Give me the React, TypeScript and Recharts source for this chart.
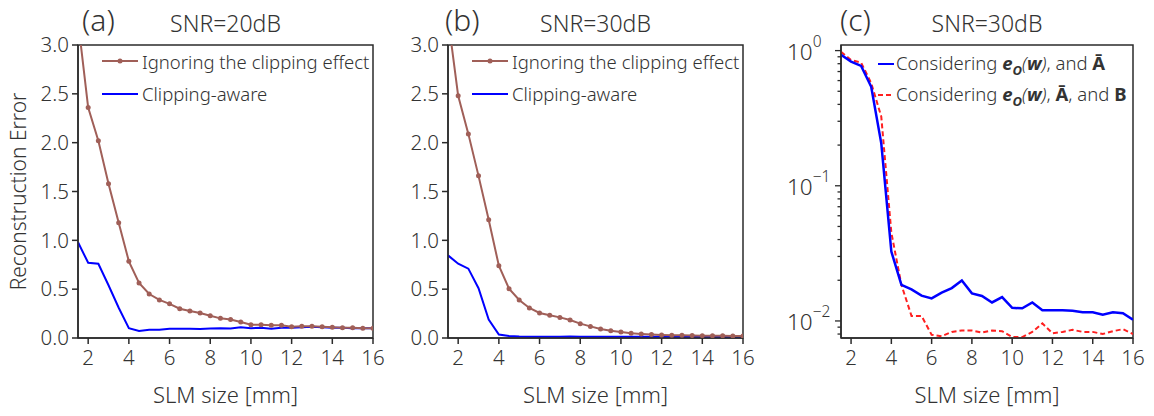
import { LineChart, Line, XAxis, YAxis, Legend, ReferenceArea } from "recharts";

// SLM aperture sizes [mm]
const slmSize = [
  1.5, 2, 2.5, 3, 3.5, 4, 4.5, 5, 5.5, 6, 6.5, 7, 7.5, 8, 8.5, 9, 9.5, 10,
  10.5, 11, 11.5, 12, 12.5, 13, 13.5, 14, 14.5, 15, 15.5, 16,
];

// (a) SNR = 20dB
const ignoring20 = [
  3.25, 2.36, 2.02, 1.58, 1.18, 0.785, 0.563, 0.45, 0.39, 0.35, 0.3, 0.276,
  0.256, 0.228, 0.201, 0.19, 0.164, 0.136, 0.135, 0.13, 0.13, 0.115, 0.12,
  0.12, 0.115, 0.11, 0.105, 0.105, 0.1, 0.1,
];
const aware20 = [
  0.98, 0.77, 0.76, 0.54, 0.31, 0.1, 0.072, 0.085, 0.085, 0.095, 0.095, 0.095,
  0.093, 0.098, 0.1, 0.097, 0.11, 0.1, 0.105, 0.095, 0.105, 0.105, 0.11,
  0.115, 0.11, 0.105, 0.105, 0.1, 0.1, 0.1,
];

// (b) SNR = 30dB
const ignoring30 = [
  3.28, 2.48, 2.09, 1.66, 1.21, 0.74, 0.505, 0.39, 0.307, 0.256, 0.232, 0.211,
  0.184, 0.147, 0.119, 0.092, 0.075, 0.061, 0.048, 0.041, 0.035, 0.031, 0.029,
  0.027, 0.025, 0.024, 0.023, 0.022, 0.021, 0.02,
];
const aware30 = [
  0.846, 0.76, 0.71, 0.51, 0.19, 0.035, 0.02, 0.015, 0.013, 0.013, 0.013,
  0.013, 0.015, 0.013, 0.012, 0.012, 0.012, 0.012, 0.012, 0.012, 0.012, 0.012,
  0.012, 0.012, 0.012, 0.012, 0.012, 0.012, 0.012, 0.012,
];

// (c) SNR = 30dB, log scale
const withoutB = [
  0.93, 0.83, 0.77, 0.54, 0.206, 0.0326, 0.0185, 0.0171, 0.0154, 0.0147,
  0.0162, 0.0175, 0.0199, 0.016, 0.0153, 0.0137, 0.015, 0.0125, 0.0124,
  0.0137, 0.012, 0.012, 0.012, 0.0119, 0.0116, 0.0116, 0.0111, 0.0116, 0.0114,
  0.0102,
];
const withB = [
  0.98, 0.85, 0.815, 0.574, 0.325, 0.045, 0.0185, 0.0109, 0.0109, 0.0079,
  0.0077, 0.0083, 0.0085, 0.0085, 0.0082, 0.0085, 0.0084, 0.0076, 0.0076,
  0.0083, 0.0096, 0.0081, 0.0083, 0.0086, 0.0083, 0.0083, 0.008, 0.0084,
  0.0087, 0.008,
];

const xTicks = [2, 4, 6, 8, 10, 12, 14, 16];
const linTicks = [0, 0.5, 1, 1.5, 2, 2.5, 3];
const logMajor = [1, 0.1, 0.01];
const logMajorLabels = ["0", "\u22121", "\u22122"];
const logMinor = [
  0.9, 0.8, 0.7, 0.6, 0.5, 0.4, 0.3, 0.2, 0.09, 0.08, 0.07, 0.06, 0.05, 0.04,
  0.03, 0.02, 0.009, 0.008,
];

const FONT = '"Noto Sans", "Open Sans", sans-serif';
const TEXT = "#333";
const AXIS = "#2b2b2b";
const BROWN = "#a05f58";
const BLUE = "#0000ff";
const RED = "#ff2020";

const W = 390;
const H = 416;
const MARGIN = { top: 45, right: 17, bottom: 0, left: 0 };
const X_DOMAIN = [1.5, 16];
const LIN_DOMAIN = [0, 3];
const LOG_DOMAIN = [0.00748, 1.1];
const tickStyle = { fontSize: 20.5, fill: TEXT, fontFamily: FONT, fontWeight: 300 };

const rowsAB = (ign: number[], aw: number[]) =>
  slmSize.map((x, i) => ({ x, ignoring: ign[i], aware: aw[i] }));
const rowsC = slmSize.map((x, i) => ({ x, noB: withoutB[i], withB: withB[i] }));

const LegendAB = () => (
  <div style={{ fontFamily: FONT, fontSize: 18.5, fontWeight: 300, color: TEXT, whiteSpace: "nowrap" }}>
    <div style={{ display: "flex", alignItems: "center", height: 32.6 }}>
      <svg width={36} height={10} style={{ marginRight: 4 }}>
        <line x1={0} x2={36} y1={5} y2={5} stroke={BROWN} strokeWidth={2} />
        <circle cx={18} cy={5} r={2.5} fill={BROWN} />
      </svg>
      <span>Ignoring the clipping effect</span>
    </div>
    <div style={{ display: "flex", alignItems: "center", height: 32.6 }}>
      <svg width={36} height={10} style={{ marginRight: 4 }}>
        <line x1={0} x2={36} y1={5} y2={5} stroke={BLUE} strokeWidth={2} />
      </svg>
      <span>Clipping-aware</span>
    </div>
  </div>
);

const bold = { fontWeight: 700 };
const boldItalic = { fontWeight: 700, fontStyle: "italic" as const };

const EO = () => (
  <>
    <span style={boldItalic}>e</span>
    <sub style={{ ...boldItalic, fontSize: 13 }}>O</sub>
    <i>(</i>
    <span style={boldItalic}>w</span>
    <i>)</i>
  </>
);

const LegendC = () => (
  <div style={{ fontFamily: FONT, fontSize: 18.5, fontWeight: 300, color: TEXT, whiteSpace: "nowrap" }}>
    <div style={{ display: "flex", alignItems: "center", height: 30.7 }}>
      <svg width={16} height={10} style={{ marginRight: 2 }}>
        <line x1={0} x2={16} y1={5} y2={5} stroke={BLUE} strokeWidth={2} />
      </svg>
      <span>
        Considering <EO />, and <span style={bold}>{"\u0100"}</span>
      </span>
    </div>
    <div style={{ display: "flex", alignItems: "center", height: 30.7 }}>
      <svg width={16} height={10} style={{ marginRight: 2 }}>
        <line x1={0} x2={16} y1={5} y2={5} stroke={RED} strokeWidth={2} strokeDasharray="5 3" />
      </svg>
      <span>
        Considering <EO />, <span style={bold}>{"\u0100"}</span>, and <span style={bold}>B</span>
      </span>
    </div>
  </div>
);

const LogTick = (props: any) => {
  const { x, y, payload } = props;
  const ax = x + 6 + 4;
  const idx = logMajor.indexOf(payload.value);
  const major = idx >= 0;
  return (
    <g>
      <line x1={ax - (major ? 6 : 3.5)} x2={ax} y1={y} y2={y} stroke={AXIS} strokeWidth={1.3} />
      {major && (
        <text x={ax - 54} y={y + 9} textAnchor="start" fill={TEXT} fontFamily={FONT} fontWeight={300}>
          <tspan fontSize={22.5}>10</tspan>
          <tspan fontSize={15.5} dy={-13}>
            {logMajorLabels[idx]}
          </tspan>
        </text>
      )}
    </g>
  );
};

const xAxisCommon = {
  dataKey: "x",
  type: "number" as const,
  domain: X_DOMAIN,
  ticks: xTicks,
  interval: 0 as const,
  allowDataOverflow: true,
  height: 78,
  tickSize: 6,
  tickMargin: 6,
  tick: tickStyle,
  stroke: AXIS,
  strokeWidth: 1.5,
};

const PanelAB = ({ data }: { data: any[] }) => (
  <LineChart width={W} height={H} data={data} margin={MARGIN}>
    <XAxis {...xAxisCommon} />
    <YAxis
      type="number"
      domain={LIN_DOMAIN}
      ticks={linTicks}
      interval={0}
      allowDataOverflow
      width={78}
      tickSize={6}
      tickMargin={3}
      tick={tickStyle}
      tickFormatter={(v: number) => v.toFixed(1)}
      stroke={AXIS}
      strokeWidth={1.5}
    />
    <ReferenceArea
      x1={X_DOMAIN[0]}
      x2={X_DOMAIN[1]}
      y1={LIN_DOMAIN[0]}
      y2={LIN_DOMAIN[1]}
      fill="none"
      stroke={AXIS}
      strokeWidth={1.5}
      ifOverflow="visible"
    />
    <Legend
      layout="vertical"
      align="center"
      verticalAlign="middle"
      content={<LegendAB />}
      wrapperStyle={{ left: 102, top: 45, width: "auto", height: "auto" }}
    />
    <Line dataKey="aware" stroke={BLUE} strokeWidth={2} dot={false} isAnimationActive={false} />
    <Line
      dataKey="ignoring"
      stroke={BROWN}
      strokeWidth={2}
      dot={{ r: 2.5, fill: BROWN, stroke: BROWN, strokeWidth: 0 }}
      isAnimationActive={false}
    />
  </LineChart>
);

const PanelC = () => (
  <LineChart width={387} height={H} data={rowsC} margin={MARGIN}>
    <XAxis {...xAxisCommon} />
    <YAxis
      type="number"
      scale="log"
      domain={LOG_DOMAIN}
      ticks={[...logMajor, ...logMinor]}
      interval={0}
      allowDataOverflow
      width={78}
      tickSize={6}
      tickMargin={4}
      tickLine={false}
      tick={<LogTick />}
      stroke={AXIS}
      strokeWidth={1.5}
    />
    <ReferenceArea
      x1={X_DOMAIN[0]}
      x2={X_DOMAIN[1]}
      y1={LOG_DOMAIN[0]}
      y2={LOG_DOMAIN[1]}
      fill="none"
      stroke={AXIS}
      strokeWidth={1.5}
      ifOverflow="visible"
    />
    <Legend
      layout="vertical"
      align="center"
      verticalAlign="middle"
      content={<LegendC />}
      wrapperStyle={{ left: 115, top: 49, width: "auto", height: "auto" }}
    />
    <Line dataKey="withB" stroke={RED} strokeWidth={2} strokeDasharray="5 3" dot={false} isAnimationActive={false} />
    <Line dataKey="noB" stroke={BLUE} strokeWidth={2.5} dot={false} isAnimationActive={false} />
  </LineChart>
);

const titles = [
  { tag: "(a)", tagX: 82, snr: "SNR=20dB", cx: 225.5 },
  { tag: "(b)", tagX: 445, snr: "SNR=30dB", cx: 595.5 },
  { tag: "(c)", tagX: 840, snr: "SNR=30dB", cx: 987 },
];
const plotCenters = [225.5, 595.5, 987];

export default function App() {
  return (
    <div style={{ position: "absolute", left: 0, top: 0, width: 1154, height: 416, background: "#fff" }}>
      <div style={{ position: "absolute", left: 0, top: 0 }}>
        <PanelAB data={rowsAB(ignoring20, aware20)} />
      </div>
      <div style={{ position: "absolute", left: 370, top: 0 }}>
        <PanelAB data={rowsAB(ignoring30, aware30)} />
      </div>
      <div style={{ position: "absolute", left: 763, top: 0 }}>
        <PanelC />
      </div>
      <svg
        width={1154}
        height={416}
        style={{ position: "absolute", left: 0, top: 0, pointerEvents: "none" }}
        fontFamily={FONT}
        fill={TEXT}
        fontWeight={300}
      >
        {titles.map((t) => (
          <g key={t.tag}>
            <text x={t.tagX} y={31} fontSize={30}>
              {t.tag}
            </text>
            <text x={t.cx} y={32} fontSize={23} textAnchor="middle">
              {t.snr}
            </text>
          </g>
        ))}
        {plotCenters.map((cx) => (
          <text key={cx} x={cx} y={403} fontSize={22} textAnchor="middle">
            SLM size [mm]
          </text>
        ))}
        <text x={26} y={191.5} fontSize={21} textAnchor="middle" transform="rotate(-90 26 191.5)">
          Reconstruction Error
        </text>
      </svg>
    </div>
  );
}
